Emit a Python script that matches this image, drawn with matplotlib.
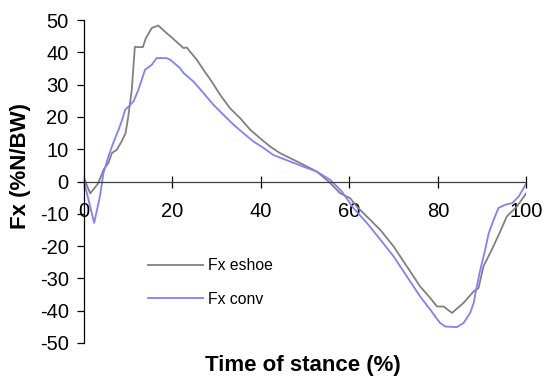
import matplotlib
matplotlib.use("Agg")
import matplotlib.pyplot as plt

plt.rcParams['font.family'] = ['Liberation Sans', 'DejaVu Sans']
plt.rcParams['axes.unicode_minus'] = False

# Horizontal ground reaction force over the stance phase
eshoe_t = [0, 1.4, 3.2, 4.4, 5.5, 6.3, 7.4, 8.5, 9.4, 10.0, 10.8, 11.5, 12.3, 13.3,
           14.0, 15.3, 16.8, 18.7, 19.5, 21.7, 22.5, 23.2, 25.5, 27.0, 28.9, 30.8,
           33.0, 35.3, 37.6, 39.8, 42.1, 44.3, 48.9, 52.6, 55.3, 57.9, 60.2, 61.7,
           64.0, 67.0, 70.0, 73.0, 76.0, 78.3, 79.8, 81.3, 83.2, 85.8, 88.1, 89.2,
           90.3, 92.2, 94.1, 95.6, 97.9, 100.0]
eshoe_fx = [1.0, -3.7, -0.6, 3.6, 5.7, 8.8, 9.8, 12.4, 15.0, 20.0, 28.4, 41.7, 41.6, 41.6,
            44.4, 47.5, 48.3, 45.9, 45.0, 42.3, 41.3, 41.5, 37.7, 34.6, 30.9, 26.8,
            22.7, 19.6, 16.0, 13.4, 10.8, 8.8, 5.7, 3.1, 0.0, -3.6, -5.2, -7.8,
            -10.9, -15.0, -20.1, -26.3, -32.5, -36.1, -38.7, -38.7, -40.7, -37.6, -34.0, -33.0,
            -26.3, -21.1, -15.5, -10.8, -7.7, -3.6]

conv_t = [0, 2.3, 3.6, 4.4, 5.5, 6.6, 7.8, 8.5, 9.3, 10.2, 11.2, 12.3, 13.8, 15.3,
          16.4, 18.7, 19.5, 21.7, 22.5, 24.7, 27.0, 29.3, 31.5, 33.8, 36.0, 38.3,
          40.6, 42.8, 46.6, 49.6, 52.6, 55.7, 58.3, 60.9, 64.0, 67.0, 70.0, 73.0,
          76.0, 78.3, 80.5, 81.7, 84.3, 85.8, 87.3, 88.1, 88.8, 89.6, 90.7, 91.5,
          92.6, 93.7, 95.2, 96.8, 98.3, 100.0]
conv_fx = [0.0, -12.8, -4.6, 2.6, 7.7, 11.9, 16.0, 18.6, 22.2, 23.4, 24.8, 28.4, 34.6, 36.1,
           38.2, 38.2, 37.7, 35.1, 33.6, 31.0, 27.4, 23.7, 20.7, 17.6, 15.0, 12.4,
           10.4, 8.2, 6.2, 4.6, 3.1, 0.5, -3.1, -8.2, -12.9, -18.0, -23.2, -29.4,
           -35.6, -39.7, -43.8, -44.9, -45.1, -43.8, -40.7, -37.6, -32.5, -27.3, -21.1, -16.0,
           -11.9, -8.2, -7.2, -6.7, -4.6, -0.6]

x_ticks = [0, 20, 40, 60, 80, 100]
y_ticks = [-50, -40, -30, -20, -10, 0, 10, 20, 30, 40, 50]

fig = plt.figure(figsize=(5.45, 3.81), dpi=100)
ax = fig.add_axes([84 / 545, 1 - 343 / 381, (526.3 - 84) / 545, (343 - 20) / 381])

ax.plot(eshoe_t, eshoe_fx, color='#808080', lw=1.3, label='Fx eshoe')
ax.plot(conv_t, conv_fx, color='#8080ff', lw=1.3, label='Fx conv')

ax.set_xlim(0, 100)
ax.set_ylim(-50, 50)
ax.set_xticks(x_ticks)
ax.set_yticks(y_ticks)

for s in ('top', 'right'):
    ax.spines[s].set_visible(False)
ax.spines['bottom'].set_position(('data', 0))
ax.spines['bottom'].set_color('#404040')
ax.spines['left'].set_color('black')
ax.spines['bottom'].set_linewidth(0.9)
ax.spines['left'].set_linewidth(0.9)

ax.tick_params(axis='x', direction='inout', length=8, width=0.9, pad=11,
               labelsize=14.5)
ax.tick_params(axis='y', direction='out', length=5, width=0.9, pad=6,
               labelsize=14.5)

fig.text(303 / 545, 1 - 365 / 381, 'Time of stance (%)', fontsize=16,
         fontweight='bold', ha='center', va='center')
fig.text(21 / 545, 1 - 166 / 381, 'Fx (%N/BW)', fontsize=16,
         fontweight='bold', ha='center', va='center', rotation=90)

ax.legend(loc='center left', bbox_to_anchor=(148 / 545, 1 - 282.5 / 381),
          bbox_transform=fig.transFigure, frameon=False, fontsize=11.3,
          handlelength=3.5, handletextpad=0.32, labelspacing=1.15,
          borderpad=0, borderaxespad=0)

fig.savefig('out.png', dpi=100)
